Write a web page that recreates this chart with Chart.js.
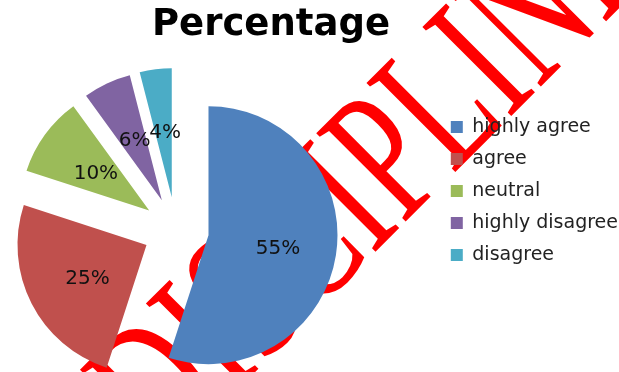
<!DOCTYPE html>
<html>
<head>
<meta charset="utf-8">
<script src="https://cdn.jsdelivr.net/npm/chart.js@4/dist/chart.umd.min.js"></script>
<style>
  html, body { margin: 0; padding: 0; background: #fff; overflow: hidden; }
  #wrap { position: relative; width: 619px; height: 372px; overflow: hidden; }
  /* canvas is wider than the page and pulled left so the pie sits near the left edge */
  #chart { position: absolute; left: -86px; top: 0; }
</style>
</head>
<body>
<div id="wrap">
  <canvas id="chart" width="714" height="372"></canvas>
</div>
<script>
// Datos de la encuesta
const categories = ['highly agree', 'agree', 'neutral', 'highly disagree', 'disagree'];
const percents = [55, 25, 10, 6, 4];
const sliceColors = ['#4F81BD', '#C0504D', '#9BBB59', '#8064A2', '#4BACC6'];
const chartTitle = 'Percentage';
const stampText = 'DISCIPLINE';

const SHIFT = 86;      // px the canvas is moved left
const EXPLODE = 33;    // distancia de separación de cada porción

// Sello rojo de fondo (queda debajo de la torta y de la leyenda)
const stampPlugin = {
    id: 'stamp',
    beforeDraw(chart) {
        const ctx = chart.ctx;
        ctx.save();
        ctx.font = '128px "Liberation Serif"';
        // centramos la "P" en el punto de anclaje
        const lead = ctx.measureText('DISCI').width + ctx.measureText('P').width / 2;
        ctx.translate(392 + SHIFT, 164);
        ctx.rotate(-45 * Math.PI / 180);
        ctx.scale(1.0, 1.5);
        ctx.fillStyle = '#ff0000';
        ctx.textAlign = 'left';
        ctx.textBaseline = 'middle';
        ctx.fillText(stampText, -lead, 0);
        ctx.restore();
    }
};

// Separa cada porción hacia afuera sin agrandar su radio
const explodePlugin = {
    id: 'explode',
    afterDatasetsUpdate(chart) {
        chart.getDatasetMeta(0).data.forEach(arc => {
            if (arc._exploded) return;
            const baseDraw = arc.draw;
            arc.draw = function (ctx, area) {
                const mid = (this.startAngle + this.endAngle) / 2;
                ctx.save();
                ctx.translate(Math.cos(mid) * EXPLODE, Math.sin(mid) * EXPLODE);
                baseDraw.call(this, ctx, area);
                ctx.restore();
            };
            arc._exploded = true;
        });
    }
};

// Etiquetas de porcentaje dentro de cada porción
const sliceLabelPlugin = {
    id: 'sliceLabels',
    afterDatasetsDraw(chart) {
        const ctx = chart.ctx;
        const meta = chart.getDatasetMeta(0);
        ctx.save();
        ctx.font = '20px "DejaVu Sans"';
        ctx.fillStyle = '#111';
        ctx.textAlign = 'center';
        ctx.textBaseline = 'middle';
        meta.data.forEach((arc, i) => {
            const mid = (arc.startAngle + arc.endAngle) / 2;
            const d = EXPLODE + arc.outerRadius * 0.53;
            ctx.fillText(percents[i] + '%', arc.x + Math.cos(mid) * d + 2, arc.y + Math.sin(mid) * d + 3);
        });
        ctx.restore();
    }
};

new Chart(document.getElementById('chart'), {
    type: 'pie',
    data: {
        labels: categories,
        datasets: [{
            data: percents,
            backgroundColor: sliceColors,
            borderWidth: 0,
            clip: false
        }]
    },
    options: {
        responsive: false,
        devicePixelRatio: 1,
        animation: false,
        radius: 129,
        layout: { padding: { left: 0, right: 0, top: 0, bottom: 16.5 } },
        plugins: {
            title: {
                display: true,
                text: chartTitle,
                color: '#000',
                font: { family: '"DejaVu Sans"', size: 37, weight: 'bold', lineHeight: 1.2 },
                padding: { top: 2.8, bottom: 57.3 }
            },
            legend: {
                position: 'right',
                align: 'start',
                fullSize: false,
                labels: {
                    color: '#222',
                    boxWidth: 12,
                    boxHeight: 12,
                    padding: 13,
                    font: { family: '"DejaVu Sans"', size: 19 }
                }
            },
            tooltip: { enabled: false }
        }
    },
    plugins: [stampPlugin, explodePlugin, sliceLabelPlugin]
});
</script>
</body>
</html>
